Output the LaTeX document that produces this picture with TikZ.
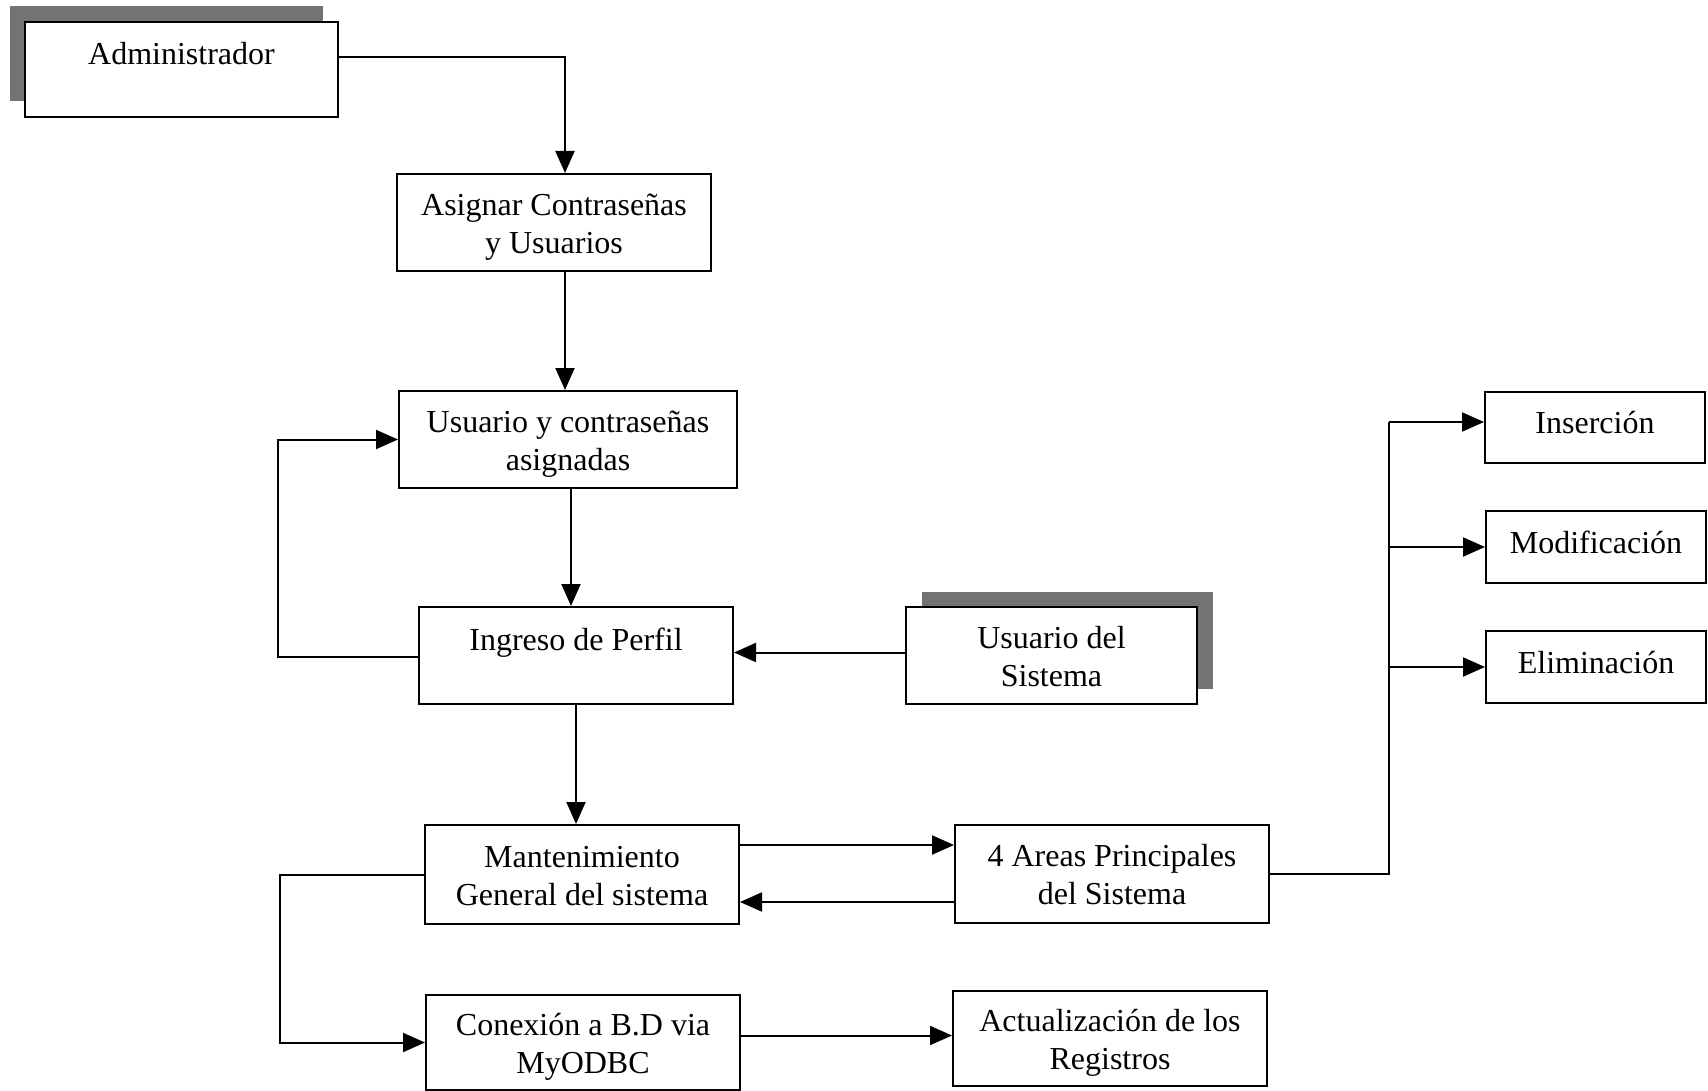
\documentclass[tikz,border=0pt]{standalone}
\usepackage{fontspec}
\setmainfont{Liberation Serif}
\usetikzlibrary{arrows.meta,shadows}
% struts that fix where the lines of a box sit
\newcommand*{\Ttop}[1]{\rule{0pt}{#1}}
\newcommand*{\Bbot}[1]{\rule[-#1]{0pt}{#1}}
\begin{document}
\begin{tikzpicture}[x=1pt,y=-1pt,
  box/.style={draw=black, line width=2pt, fill=white, rectangle, inner sep=0pt,
    align=center, font=\fontsize{32}{38}\selectfont},
  arr/.style={line width=2pt, -{Triangle[length=22pt,width=19pt]}},
  conn/.style={line width=2pt},
  shadowleft/.style={drop shadow={shadow xshift=-15pt, shadow yshift=16pt, fill=black!55, opacity=1}},
  shadowright/.style={drop shadow={shadow xshift=16pt, shadow yshift=15pt, fill=black!55, opacity=1}}]
\useasboundingbox (0,0) rectangle (1708,1091);
\fill[white] (0,0) rectangle (1708,1091);

% boxes
\node[box, shadowleft, minimum width=313pt, minimum height=95pt] (adm) at (181.5,69.5) {\Ttop{28pt}Administrador\\\mbox{}};
\node[box, minimum width=314pt, minimum height=97pt] (asig) at (554,222.5) {\Ttop{33pt}Asignar Contraseñas\\y Usuarios\Bbot{9pt}};
\node[box, minimum width=338pt, minimum height=97pt] (usu) at (568,439.5) {\Ttop{33pt}Usuario y contraseñas\\asignadas\Bbot{9pt}};
\node[box, minimum width=314pt, minimum height=97pt] (ing) at (576,655.5) {\Ttop{28pt}Ingreso de Perfil\\\mbox{}};
\node[box, shadowright, minimum width=291pt, minimum height=97pt] (usis) at (1051.5,655.5) {\Ttop{33pt}Usuario del\\Sistema\Bbot{9pt}};
\node[box, minimum width=314pt, minimum height=99pt] (mant) at (582,874.5) {\Ttop{32pt}Mantenimiento\\General del sistema\Bbot{9pt}};
\node[box, minimum width=314pt, minimum height=98pt] (areas) at (1112,874) {\Ttop{32pt}4 Areas Principales\\del Sistema\Bbot{9pt}};
\node[box, minimum width=220pt, minimum height=71pt] (ins) at (1595,427.5) {\Ttop{41pt}Inserción\Bbot{29pt}};
\node[box, minimum width=220pt, minimum height=72pt] (mod) at (1596,547) {\Ttop{41pt}Modificación\Bbot{29pt}};
\node[box, minimum width=220pt, minimum height=72pt] (elim) at (1596,667) {\Ttop{41pt}Eliminación\Bbot{29pt}};
\node[box, minimum width=314pt, minimum height=95pt] (con) at (583,1042.5) {\Ttop{33pt}Conexión a B.D via\\MyODBC\Bbot{9pt}};
\node[box, minimum width=314pt, minimum height=95pt] (act) at (1110,1038.5) {\Ttop{33pt}Actualización de los\\Registros\Bbot{9pt}};

% connectors
\draw[arr] ([yshift=12.5pt]adm.east) -| ([xshift=11pt]asig.north);
\draw[arr] ([xshift=11pt]asig.south) -- ([xshift=11pt]asig.south |- usu.north);
\draw[arr] ([xshift=3pt]usu.south) -- ([xshift=3pt]usu.south |- ing.north);
\draw[arr] ([yshift=-1.5pt]ing.west) -| ([xshift=-120pt]usu.west) -- (usu.west);
\draw[arr] ([yshift=3pt]usis.west) -- ([yshift=3pt]ing.east);
\draw[arr] (ing.south) -- (ing.south |- mant.north);
\draw[arr] ([yshift=29.5pt]mant.east) -- ([yshift=29.5pt]mant.east -| areas.west);
\draw[arr] ([yshift=-28pt]areas.west) -- ([yshift=-28pt]areas.west -| mant.east);

\coordinate (bus) at ([xshift=-95pt,yshift=5.5pt]ins.west);
\draw[conn] (areas.east) -| (bus);
\draw[arr] (bus) -- (bus -| ins.west);
\draw[arr] (bus |- mod.west) -- (mod.west);
\draw[arr] (bus |- elim.west) -- (elim.west);

\draw[arr] (mant.west) -| ([xshift=-145pt]con.west) -- (con.west);
\draw[arr] ([yshift=7pt]con.east) -- ([yshift=7pt]con.east -| act.west);
\end{tikzpicture}
\end{document}
